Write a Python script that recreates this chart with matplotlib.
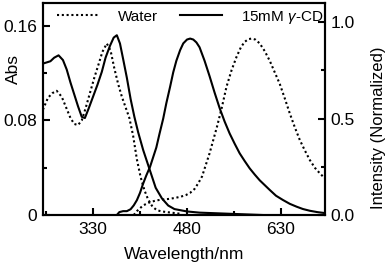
import matplotlib
matplotlib.use("Agg")
import matplotlib.pyplot as plt
from matplotlib.lines import Line2D

plt.rcParams["font.family"] = ["Liberation Sans", "DejaVu Sans"]
plt.rcParams["mathtext.fontset"] = "custom"
plt.rcParams["mathtext.it"] = "Liberation Sans:italic"

# absorbance, water (dotted)
abs_water_nm = [250, 258, 265, 272, 280, 287, 294, 300, 306, 312, 318, 325, 332,
                338, 345, 352, 358, 364, 370, 376, 382, 388, 394, 400, 406, 412,
                418, 425, 432, 440, 455, 470]
abs_water = [0.089, 0.099, 0.103, 0.105, 0.100, 0.091, 0.082, 0.077, 0.076, 0.080,
             0.090, 0.103, 0.116, 0.126, 0.138, 0.145, 0.139, 0.124, 0.111, 0.100,
             0.091, 0.082, 0.067, 0.047, 0.032, 0.021, 0.013, 0.007, 0.004, 0.003,
             0.002, 0.001]

# absorbance, 15 mM gamma-CD (solid)
abs_cd_nm = [250, 256, 262, 268, 275, 282, 288, 294, 300, 306, 312, 317, 323, 330,
             337, 344, 350, 357, 363, 368, 373, 378, 384, 390, 396, 402, 410, 420,
             430, 440, 450, 460, 470, 480, 500, 550, 600]
abs_cd = [0.128, 0.129, 0.130, 0.133, 0.135, 0.131, 0.123, 0.112, 0.102, 0.092,
          0.083, 0.082, 0.090, 0.100, 0.110, 0.121, 0.133, 0.143, 0.150, 0.152,
          0.145, 0.132, 0.116, 0.098, 0.083, 0.070, 0.055, 0.039, 0.023, 0.014,
          0.008, 0.005, 0.004, 0.003, 0.002, 0.001, 0.0]

# normalized emission, 15 mM gamma-CD (solid)
em_cd_nm = [368, 372, 378, 384, 390, 395, 400, 405, 410, 415, 421, 426, 431, 436,
            442, 447, 453, 458, 463, 469, 474, 480, 485, 490, 495, 500, 508, 516,
            524, 532, 540, 548, 556, 564, 572, 580, 588, 596, 604, 612, 622, 633,
            644, 655, 665, 676, 688, 700]
em_cd = [0.0, 0.015, 0.02, 0.02, 0.03, 0.05, 0.077, 0.115, 0.163, 0.205, 0.25,
         0.30, 0.35, 0.42, 0.50, 0.58, 0.665, 0.74, 0.80, 0.855, 0.89, 0.91, 0.915,
         0.91, 0.895, 0.87, 0.80, 0.72, 0.635, 0.555, 0.485, 0.423, 0.37, 0.32,
         0.28, 0.242, 0.21, 0.18, 0.155, 0.13, 0.10, 0.078, 0.058, 0.043, 0.031,
         0.022, 0.015, 0.01]

# normalized emission, water (dotted)
em_water_nm = [395, 400, 405, 410, 420, 430, 440, 450, 460, 470, 478, 485, 492,
               498, 504, 510, 516, 522, 528, 535, 543, 551, 559, 566, 572, 578,
               583, 589, 596, 604, 612, 620, 628, 636, 644, 652, 660, 668, 676,
               684, 692, 700]
em_water = [0.0, 0.02, 0.035, 0.05, 0.065, 0.075, 0.08, 0.083, 0.088, 0.095, 0.103,
            0.115, 0.135, 0.165, 0.20, 0.26, 0.32, 0.39, 0.46, 0.55, 0.665, 0.75,
            0.82, 0.87, 0.898, 0.912, 0.915, 0.91, 0.89, 0.85, 0.80, 0.74, 0.68,
            0.605, 0.527, 0.455, 0.389, 0.335, 0.285, 0.245, 0.216, 0.19]

x_major = [330, 480, 630]
x_minor = [255, 405, 555]
left_major = [0, 0.08, 0.16]
left_labels = ["0", "0.08", "0.16"]
left_minor = [0.04, 0.12]
right_major = [0.0, 0.5, 1.0]
right_labels = ["0.0", "0.5", "1.0"]
right_minor = [0.25, 0.75]

dots = (0, (1, 1.3))

fig = plt.figure(figsize=(3.9, 2.63), dpi=100)
ax = fig.add_axes([0.110, 0.1825, 0.723, 0.805])
ax2 = ax.twinx()

ax.plot(abs_water_nm, abs_water, color="black", lw=1.5, linestyle=dots)
ax.plot(abs_cd_nm, abs_cd, color="black", lw=1.5)
ax2.plot(em_water_nm, em_water, color="black", lw=1.5, linestyle=dots)
ax2.plot(em_cd_nm, em_cd, color="black", lw=1.5)

ax.set_xlim(250, 700)
ax.set_ylim(0, 0.179)
ax2.set_ylim(0, 1.098)

ax.set_xticks(x_major)
ax.set_xticks(x_minor, minor=True)
ax.set_yticks(left_major)
ax.set_yticklabels(left_labels)
ax.set_yticks(left_minor, minor=True)
ax2.set_yticks(right_major)
ax2.set_yticklabels(right_labels)
ax2.set_yticks(right_minor, minor=True)

for a in (ax, ax2):
    for s in a.spines.values():
        s.set_linewidth(1.5)
    a.tick_params(which="both", direction="in", width=1.5, labelsize=12.5, pad=4)
    a.tick_params(which="major", length=5)
    a.tick_params(which="minor", length=3)
ax.tick_params(which="both", top=False, right=False)
ax.tick_params(axis="x", pad=5)
ax2.tick_params(which="both", top=False, left=False, right=True)

ax.set_xlabel("Wavelength/nm", fontsize=12.5, labelpad=7)
ax.set_ylabel("Abs", fontsize=12.5)
ax.yaxis.set_label_coords(-0.078, 0.69)
ax2.set_ylabel("Intensity (Normalized)", fontsize=12)
ax2.yaxis.set_label_coords(1.163, 0.413)

handles = [Line2D([], [], color="black", lw=1.5, linestyle=dots),
           Line2D([], [], color="black", lw=1.5)]
ax2.legend(handles, ["Water", "15mM $\\it{\\gamma}$-CD"], loc="upper left",
           bbox_to_anchor=(0.05, 0.975), frameon=False, ncol=2, fontsize=11,
           borderpad=0, handlelength=2.8, handletextpad=1.2, columnspacing=1.4,
           borderaxespad=0)

fig.savefig("out.png", dpi=100)
